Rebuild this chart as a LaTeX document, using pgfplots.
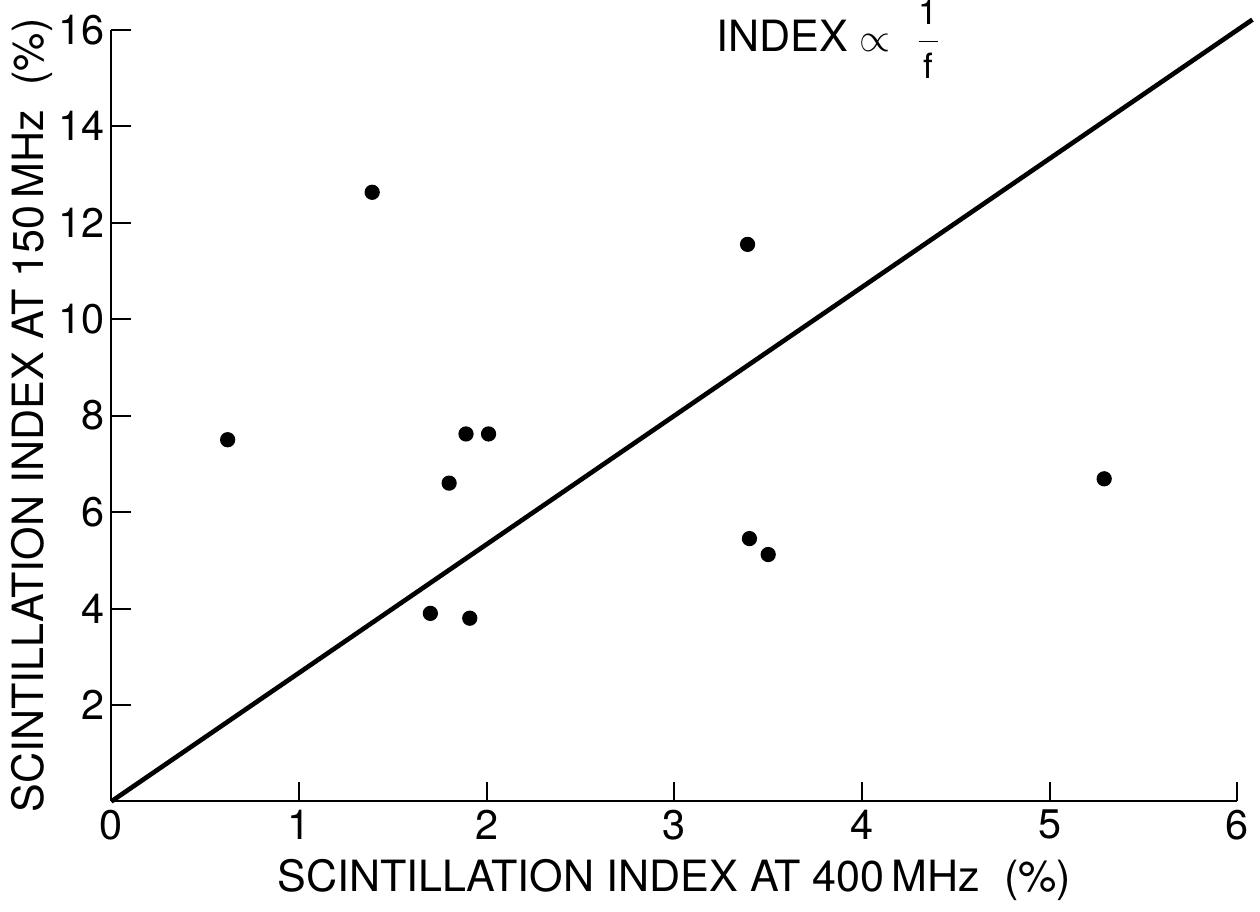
\documentclass[border=0pt]{standalone}
\usepackage{pgfplots}
\pgfplotsset{compat=1.18}
\usepackage{fontspec}
\setmainfont{TeX Gyre Heros}
\begin{document}
\begin{tikzpicture}
\begin{axis}[
  scale only axis,
  width=340pt, height=233pt,
  xmin=0, xmax=6, ymin=0, ymax=16,
  axis lines*=left,
  axis line style={line width=0.6pt},
  xtick={0,1,2,3,4,5,6},
  ytick={2,4,6,8,10,12,14,16},
  tick align=inside,
  major tick length=6pt,
  tick style={black, line width=0.6pt},
  /pgf/number format/assume math mode=true,
  ticklabel style={font=\fontsize{12.5}{14}\selectfont},
  xticklabel style={yshift=1pt},
  yticklabel style={xshift=1.5pt},
  xlabel={SCINTILLATION INDEX AT 400\,MHz\ \ (\%)},
  ylabel={SCINTILLATION INDEX AT 150\,MHz\ \ (\%)},
  label style={font=\fontsize{13}{15}\selectfont},
  xlabel style={yshift=1pt},
  ylabel style={yshift=-5pt},
  clip=false,
]
\addplot[black, line width=1.4pt] coordinates {(0,0) (6.08,16.21)};
\addplot[only marks, mark=*, mark size=2.1pt, black] coordinates {
(0.62,7.5)
(1.39,12.63)
(1.89,7.62)
(2.01,7.62)
(1.80,6.6)
(1.70,3.9)
(1.91,3.8)
(3.39,11.55)
(3.40,5.45)
(3.50,5.12)
(5.29,6.69)
};
\node[font=\fontsize{13}{15}\selectfont, anchor=west, inner sep=0pt] at (axis cs:3.22,15.8) {INDEX\ $\propto$\ \ $\displaystyle\frac{\mbox{\fontsize{10.5}{12}\selectfont 1}}{\mbox{\fontsize{10.5}{12}\selectfont f}}$};
\end{axis}
\end{tikzpicture}
\end{document}
